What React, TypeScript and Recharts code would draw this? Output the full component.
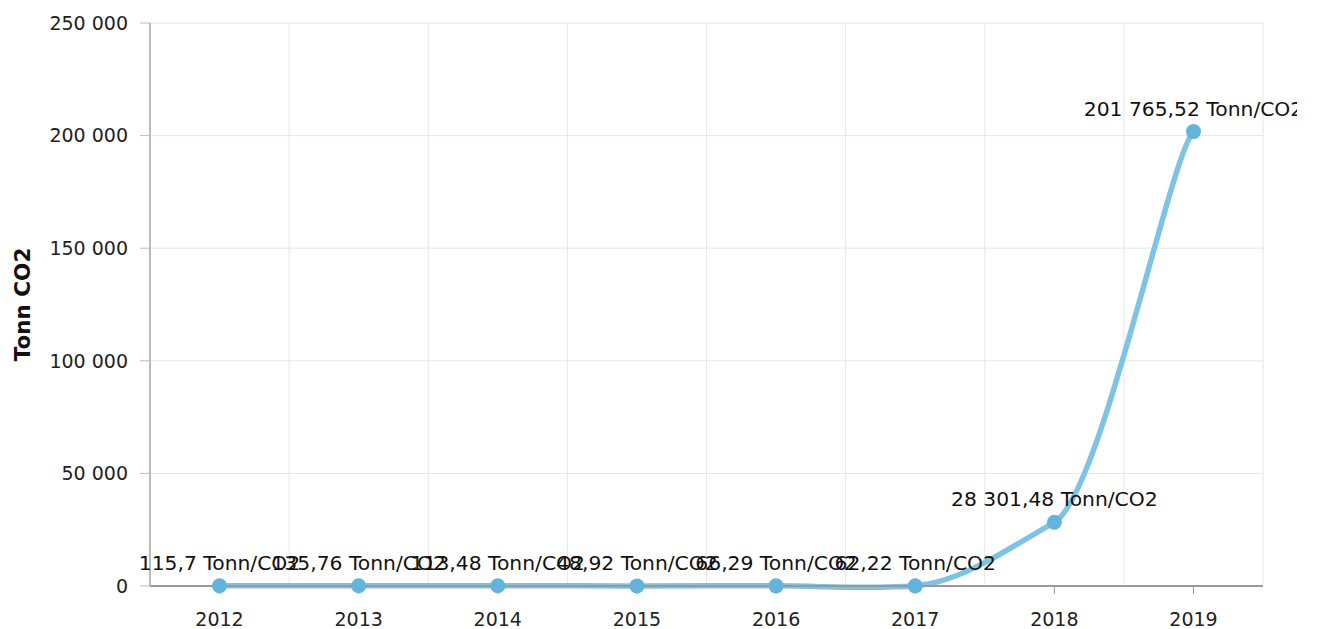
import React from 'react';
import {
  LineChart,
  Line,
  XAxis,
  YAxis,
  CartesianGrid,
  LabelList,
} from 'recharts';

const years = ['2012', '2013', '2014', '2015', '2016', '2017', '2018', '2019'];
const emissions = [115.7, 135.76, 113.48, 48.92, 66.29, 62.22, 28301.48, 201765.52];
const yTicks = [0, 50000, 100000, 150000, 200000, 250000];

const data = years.map((year, i) => ({ year, value: emissions[i] }));

const FONT = '"DejaVu Sans", Verdana, sans-serif';

// "28301.48" -> "28 301,48"
const formatNumber = (value: number) => {
  const [intPart, decPart] = String(value).split('.');
  const grouped = intPart.replace(/\B(?=(\d{3})+(?!\d))/g, ' ');
  return decPart ? `${grouped},${decPart}` : grouped;
};

// catmull-rom style smoothing with a weaker vertical tension,
// gives the soft S-shaped segments of the original
const TENSION_X = 1;
const TENSION_Y = 0.35;
const smoothCurve = (context: any) => {
  let pts: number[][] = [];
  return {
    areaStart() {},
    areaEnd() {},
    lineStart() {
      pts = [];
    },
    point(x: number, y: number) {
      pts.push([+x, +y]);
    },
    lineEnd() {
      const n = pts.length;
      if (!n) return;
      context.moveTo(pts[0][0], pts[0][1]);
      for (let i = 0; i < n - 1; i++) {
        const p0 = pts[Math.max(i - 1, 0)];
        const p1 = pts[i];
        const p2 = pts[i + 1];
        const p3 = pts[Math.min(i + 2, n - 1)];
        context.bezierCurveTo(
          p1[0] + ((p2[0] - p0[0]) / 6) * TENSION_X,
          p1[1] + ((p2[1] - p0[1]) / 6) * TENSION_Y,
          p2[0] - ((p3[0] - p1[0]) / 6) * TENSION_X,
          p2[1] - ((p3[1] - p1[1]) / 6) * TENSION_Y,
          p2[0],
          p2[1]
        );
      }
    },
  };
};

const AxisTitle = ({ viewBox }: any) => {
  const cx = 14;
  const cy = viewBox.y + viewBox.height / 2;
  return (
    <text
      x={cx}
      y={cy}
      transform={`rotate(-90, ${cx}, ${cy})`}
      textAnchor="middle"
      dominantBaseline="central"
      fontFamily={FONT}
      fontSize={21.5}
      fontWeight="bold"
      fill="#111"
    >
      Tonn CO2
    </text>
  );
};

const EmissionsChart: React.FC = () => {
  return (
    <LineChart
      width={1289}
      height={621}
      data={data}
      margin={{ top: 15, right: 34, bottom: 0, left: 0 }}
    >
      <CartesianGrid
        stroke="#e6e6e6"
        verticalCoordinatesGenerator={({ offset }: any) =>
          Array.from({ length: years.length + 1 }, (_, i) =>
            offset.left + (i * offset.width) / years.length
          )
        }
      />
      <XAxis
        dataKey="year"
        height={43}
        padding={{ left: 69.5, right: 69.5 }}
        axisLine={{ stroke: '#999', strokeWidth: 2 }}
        tickLine={{ stroke: '#999' }}
        tickSize={8}
        tickMargin={19}
        tick={{ fontFamily: FONT, fontSize: 19, fill: '#222' }}
        interval={0}
      />
      <YAxis
        width={142}
        domain={[0, 250000]}
        ticks={yTicks}
        axisLine={{ stroke: '#bbb', strokeWidth: 2 }}
        tickLine={{ stroke: '#bbb' }}
        tickSize={10}
        tickMargin={12}
        tick={{ fontFamily: FONT, fontSize: 19, fill: '#222' }}
        tickFormatter={formatNumber}
        label={<AxisTitle />}
      />
      <Line
        type={smoothCurve as any}
        dataKey="value"
        stroke="#7fc3e4"
        strokeWidth={5.5}
        dot={{ r: 7.5, fill: '#63b4dc', stroke: 'none' }}
        activeDot={false}
        isAnimationActive={false}
      >
        <LabelList
          dataKey="value"
          position="top"
          offset={16}
          formatter={(v: any) => `${formatNumber(Number(v))} Tonn/CO2`}
          style={{ fontFamily: FONT, fontSize: 20.3, fill: '#111' }}
        />
      </Line>
    </LineChart>
  );
};

export default function App() {
  return <EmissionsChart />;
}
